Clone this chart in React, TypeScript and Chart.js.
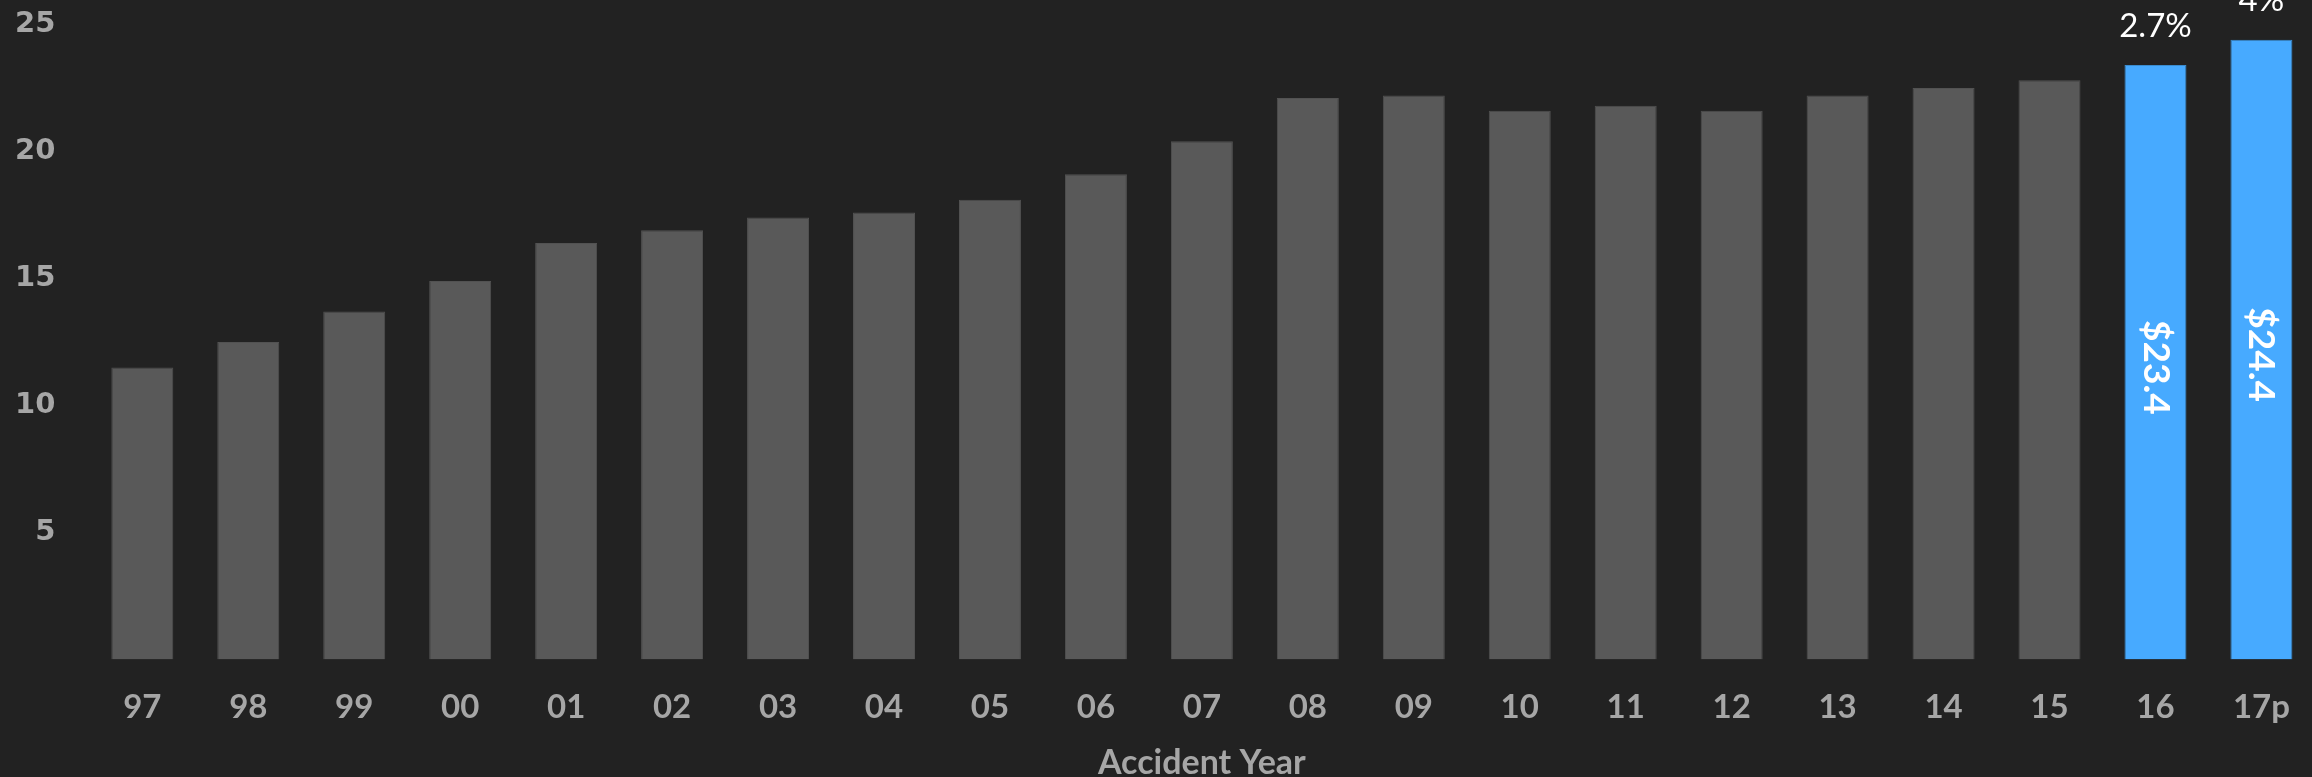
import React, { useEffect, useRef } from 'react';
import { Chart, registerables } from 'chart.js';

Chart.register(...registerables);

const years = ['97', '98', '99', '00', '01', '02', '03', '04', '05', '06', '07', '08', '09', '10', '11', '12', '13', '14', '15', '16', '17p'];
const values = [11.5, 12.5, 13.7, 14.9, 16.4, 16.9, 17.4, 17.6, 18.1, 19.1, 20.4, 22.1, 22.2, 21.6, 21.8, 21.6, 22.2, 22.5, 22.8, 23.4, 24.4];
const highlighted = [false, false, false, false, false, false, false, false, false, false, false, false, false, false, false, false, false, false, false, true, true];
const growthLabels = ['', '', '', '', '', '', '', '', '', '', '', '', '', '', '', '', '', '', '', '2.7%', '4%'];
const valueLabels = ['', '', '', '', '', '', '', '', '', '', '', '', '', '', '', '', '', '', '', '$23.4', '$24.4'];
const yTickValues = [5, 10, 15, 20, 25];
const xTitle = 'Accident Year';

const GRAY = '#595959';
const BLUE = '#47aaff';
const TICK = '#a6a6a6';
const BG = '#222222';

const labelPlugin = {
  id: 'barLabels',
  afterDatasetsDraw(chart: any) {
    const ctx = chart.ctx;
    const meta = chart.getDatasetMeta(0);
    meta.data.forEach((bar: any, i: number) => {
      const g = growthLabels[i];
      const v = valueLabels[i];
      if (g) {
        ctx.save();
        ctx.fillStyle = '#ffffff';
        ctx.font = '33px Lato, "Open Sans", sans-serif';
        ctx.textAlign = 'center';
        ctx.textBaseline = 'middle';
        ctx.fillText(g, bar.x, bar.y - 39);
        ctx.restore();
      }
      if (v) {
        ctx.save();
        ctx.translate(bar.x, (bar.y + bar.base) / 2 + 5);
        ctx.rotate(Math.PI / 2);
        ctx.fillStyle = '#ffffff';
        ctx.font = 'bold 37px Lato, "Open Sans", sans-serif';
        ctx.textAlign = 'center';
        ctx.textBaseline = 'middle';
        ctx.fillText(v, 0, 0);
        ctx.restore();
      }
    });
  },
};

export default function App() {
  const ref = useRef<HTMLCanvasElement | null>(null);

  useEffect(() => {
    document.body.style.background = BG;
    document.body.style.margin = '0';
    document.body.style.overflow = 'hidden';
    if (!ref.current) return;
    const chart = new Chart(ref.current, {
      type: 'bar',
      data: {
        labels: years,
        datasets: [
          {
            data: values,
            backgroundColor: highlighted.map((h) => (h ? BLUE : GRAY)),
            borderColor: highlighted.map((h) => (h ? '#3a8ccf' : '#525252')),
            borderWidth: 1,
            categoryPercentage: 1,
            barPercentage: 0.585,
          },
        ],
      },
      options: {
        animation: false,
        responsive: true,
        maintainAspectRatio: false,
        layout: { padding: { left: 0, right: 3, top: 20, bottom: 0 } },
        plugins: {
          legend: { display: false },
          tooltip: { enabled: false },
        },
        scales: {
          x: {
            grid: { display: false, drawTicks: false },
            border: { display: false },
            ticks: {
              color: TICK,
              padding: 28,
              maxRotation: 0,
              autoSkip: false,
              font: { family: 'Lato, "Open Sans", sans-serif', size: 33, weight: 'bold' },
            },
            title: {
              display: true,
              text: xTitle,
              color: TICK,
              padding: { top: -13, bottom: 0 },
              font: { family: 'Lato, "Open Sans", sans-serif', size: 34, weight: 'bold' },
            },
          },
          y: {
            min: 0,
            max: 25,
            grid: { display: false, drawTicks: false },
            border: { display: false },
            afterBuildTicks: (axis: any) => {
              axis.ticks = yTickValues.map((v) => ({ value: v }));
            },
            ticks: {
              color: TICK,
              padding: 34,
              font: { family: '"DejaVu Sans", sans-serif', size: 29, weight: 'bold' },
            },
          },
        },
      },
      plugins: [labelPlugin],
    });
    return () => chart.destroy();
  }, []);

  return (
    <div style={{ position: 'fixed', left: 0, top: 0, width: 2312, height: 777, overflow: 'hidden', background: BG }}>
      <div style={{ position: 'absolute', left: -19, top: -27, width: 2337, height: 810 }}>
        <canvas ref={ref} />
      </div>
    </div>
  );
}
